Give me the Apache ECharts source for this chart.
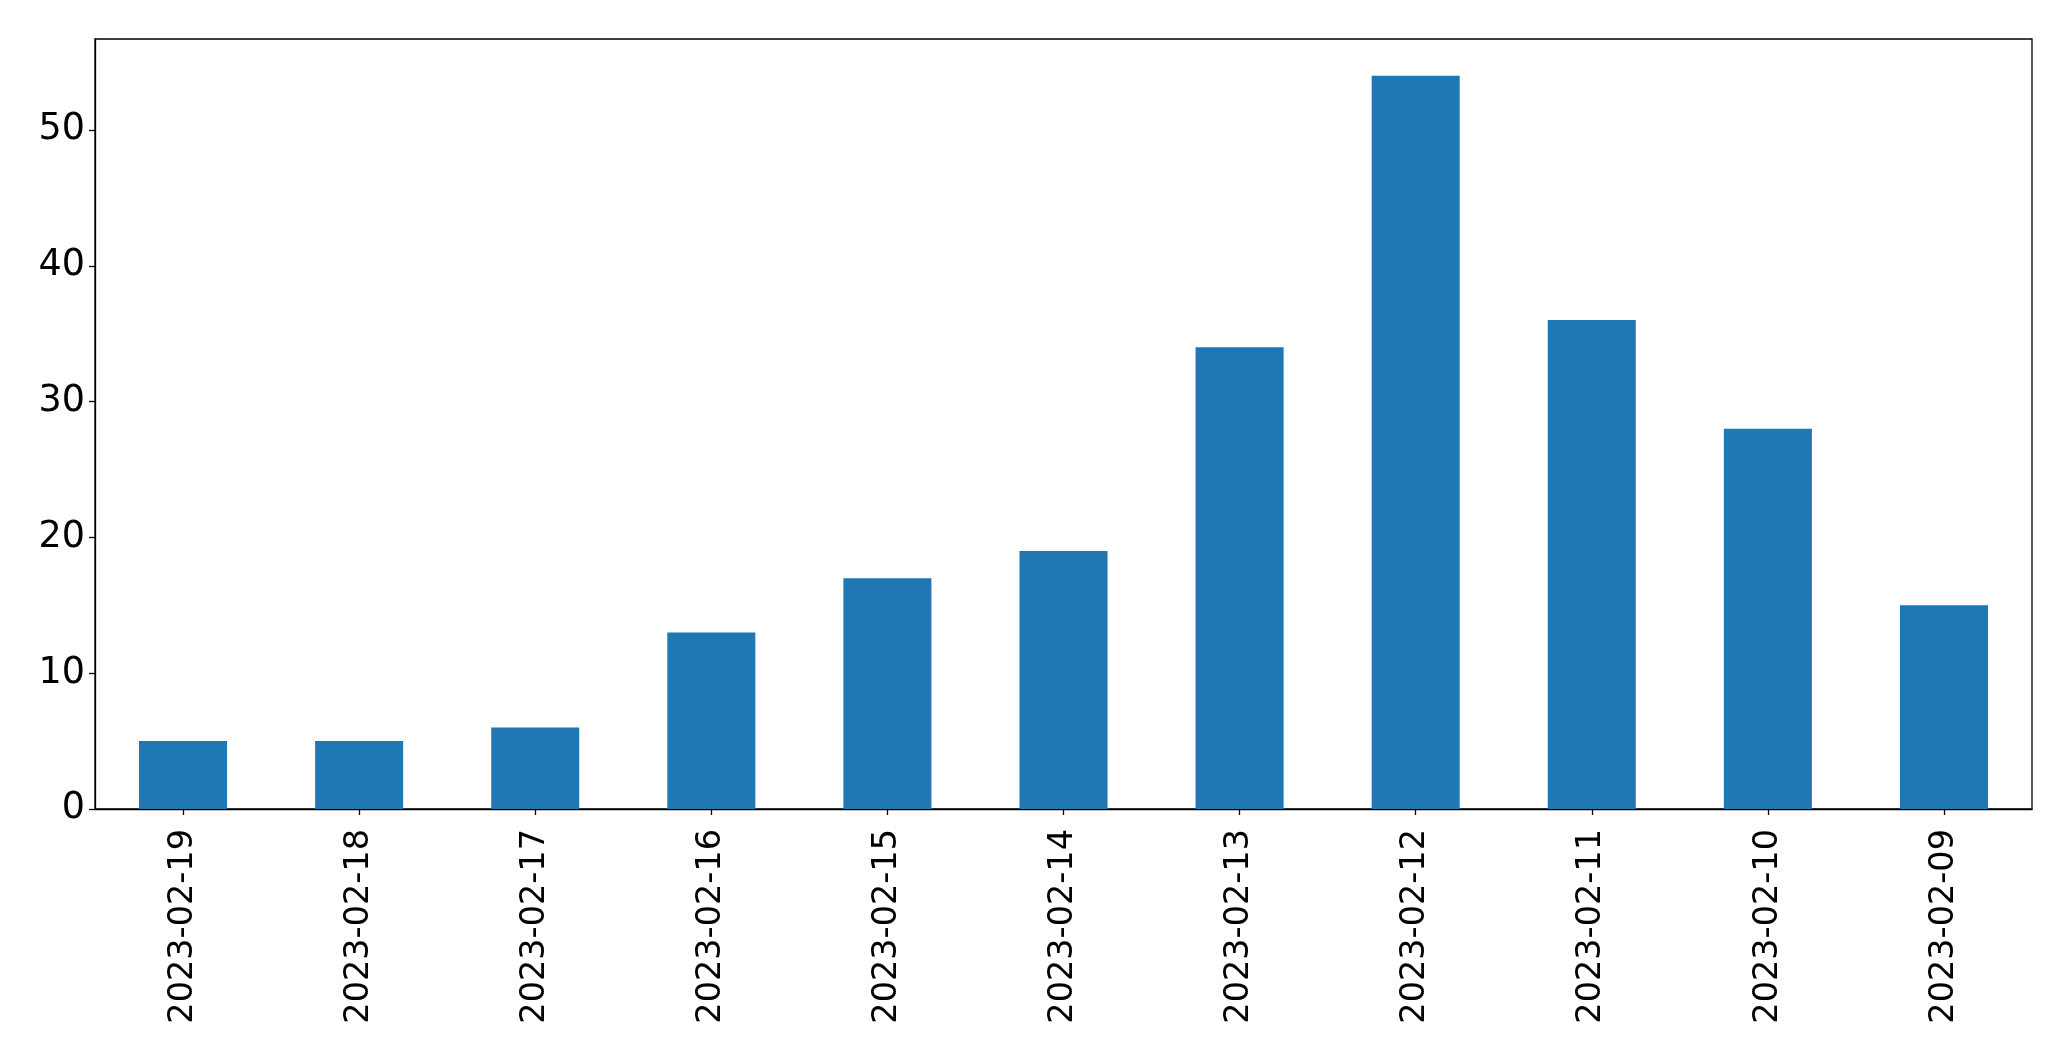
<!DOCTYPE html>
<html>
<head>
<meta charset="utf-8">
<script src="https://cdn.jsdelivr.net/npm/echarts@6/dist/echarts.min.js"></script>
<style>html,body{margin:0;padding:0;background:#fff;}#c{width:2071px;height:1061px;}</style>
</head>
<body>
<div id="c"></div>
<script>
const categories = ["2023-02-19","2023-02-18","2023-02-17","2023-02-16","2023-02-15","2023-02-14","2023-02-13","2023-02-12","2023-02-11","2023-02-10","2023-02-09"];
const values = [5, 5, 6, 13, 17, 19, 34, 54, 36, 28, 15];
const yTicks = [0, 10, 20, 30, 40, 50];

const chart = echarts.init(document.getElementById('c'), null, {renderer: 'canvas'});
const font = 'DejaVu Sans';
chart.setOption({
  animation: false,
  backgroundColor: '#ffffff',
  grid: {left: 95, right: 39, top: 39, bottom: 252, show: true, borderColor: '#000', borderWidth: 1.3, containLabel: false},
  xAxis: {
    type: 'category',
    data: categories,
    axisLine: {show: true, lineStyle: {color: '#000', width: 1.3}},
    axisTick: {show: true, alignWithLabel: true, length: 6, lineStyle: {color: '#000', width: 1.3}},
    axisLabel: {rotate: 90, fontFamily: font, fontSize: 33.5, color: '#000', margin: 20, interval: 0}
  },
  yAxis: {
    type: 'value',
    min: 0, max: 56.7, interval: 10,
    splitLine: {show: false},
    axisLine: {show: true, lineStyle: {color: '#000', width: 1.3}},
    axisTick: {show: true, length: 6, lineStyle: {color: '#000', width: 1.3}},
    axisLabel: {fontFamily: font, fontSize: 36.5, color: '#000', margin: 10, showMaxLabel: false,
      formatter: v => yTicks.includes(v) ? String(v) : ''}
  },
  series: [{
    type: 'bar',
    data: values,
    barWidth: '50%',
    itemStyle: {color: '#1f77b4'}
  }]
});
</script>
</body>
</html>
